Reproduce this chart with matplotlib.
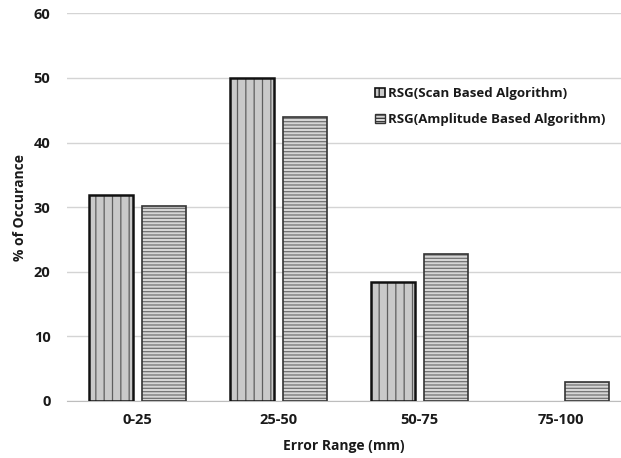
import numpy as np
import matplotlib
matplotlib.use('Agg')
import matplotlib.pyplot as plt
from matplotlib.patches import Patch

# data
categories = ['0-25', '25-50', '50-75', '75-100']
scan_based = [31.8, 50.0, 18.4, 0.0]
amplitude_based = [30.2, 43.9, 22.7, 2.9]
series_names = ['RSG(Scan Based Algorithm)', 'RSG(Amplitude Based Algorithm)']
y_ticks = [0, 10, 20, 30, 40, 50, 60]

plt.rcParams['font.family'] = ['Open Sans', 'DejaVu Sans']
plt.rcParams['hatch.linewidth'] = 0.9

fig = plt.figure(figsize=(6.21, 4.58), dpi=100)
ax = fig.add_axes([0.108, 0.1245, 0.892, 0.8465])

x = np.arange(len(categories))
width = 0.31
offset = 0.187

# scan based: vertical stripes, heavy black outline (no outline for empty bars)
scan_lw = [1.8 if v > 0 else 0 for v in scan_based]
ax.bar(x - offset, scan_based, width, color='#c9c9c9', edgecolor='#5e5e5e',
       hatch='||', linewidth=0, zorder=3)
ax.bar(x - offset, scan_based, width, fill=False, edgecolor='#111111',
       linewidth=scan_lw, zorder=4)

# amplitude based: dense horizontal lines, thinner outline
amp_lw = [1.2 if v > 0 else 0 for v in amplitude_based]
ax.bar(x + offset, amplitude_based, width, color='#d6d6d6', edgecolor='#727272',
       hatch='-----', linewidth=0, zorder=3)
ax.bar(x + offset, amplitude_based, width, fill=False, edgecolor='#333333',
       linewidth=amp_lw, zorder=4)

ax.set_ylim(0, 60)
ax.set_xlim(-0.5, 3.43)
ax.set_yticks(y_ticks)
ax.set_xticks(x)
ax.set_xticklabels(categories)
ax.yaxis.grid(True, color='#d4d4d4', linewidth=1.0)
ax.set_axisbelow(True)
for side in ['top', 'right', 'left']:
    ax.spines[side].set_visible(False)
ax.spines['bottom'].set_color('#bdbdbd')
ax.tick_params(axis='both', length=0, labelsize=10.5, colors='#1a1a1a')
ax.tick_params(axis='x', pad=9)
ax.tick_params(axis='y', pad=12)
for lbl in ax.get_xticklabels() + ax.get_yticklabels():
    lbl.set_fontweight('bold')

ax.set_xlabel('Error Range (mm)', fontsize=10, fontweight='bold',
              color='#1a1a1a', labelpad=8)
ax.set_ylabel('% of Occurance', fontsize=10, fontweight='bold',
              color='#1a1a1a', labelpad=5)

handles = [
    Patch(facecolor='#c9c9c9', edgecolor='#111111', hatch='||', linewidth=1.2),
    Patch(facecolor='#d6d6d6', edgecolor='#333333', hatch='-----', linewidth=1.0),
]
leg = ax.legend(handles, series_names, loc='upper left',
                bbox_to_anchor=(0.535, 0.84), frameon=False,
                prop={'size': 9.5, 'weight': 'bold'},
                handlelength=0.7, handleheight=0.7, handletextpad=0.3,
                labelspacing=1.0)
for t in leg.get_texts():
    t.set_color('#1a1a1a')

fig.savefig('out.png', dpi=100)
